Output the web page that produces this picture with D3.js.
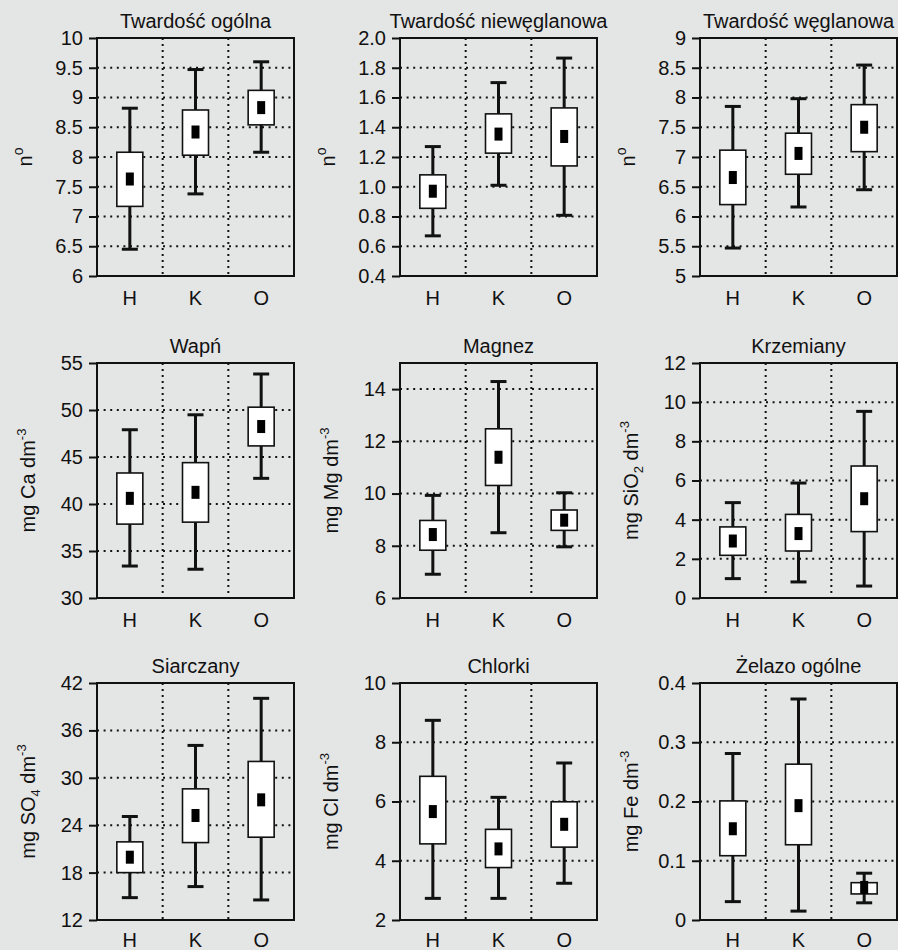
<!DOCTYPE html>
<html>
<head>
<meta charset="utf-8">
<script src="https://cdn.jsdelivr.net/npm/d3@7"></script>
<style>
  body { margin: 0; background: #e4e5e5; }
  svg { display: block; }
  text { font-family: "Liberation Sans", Arial, sans-serif; fill: #111; }
</style>
</head>
<body>
<svg width="898" height="950"></svg>
<script>
//  categories and panel texts
var categories = ["H", "K", "O"];
var titles = ["Twardość ogólna", "Twardość niewęglanowa", "Twardość węglanowa",
              "Wapń", "Magnez", "Krzemiany",
              "Siarczany", "Chlorki", "Żelazo ogólne"];
// [main text, sub, middle text, sup]
var yLabels = [["n", "", "", "o"], ["n", "", "", "o"], ["n", "", "", "o"],
               ["mg Ca dm", "", "", "-3"], ["mg Mg dm", "", "", "-3"], ["mg SiO", "2", " dm", "-3"],
               ["mg SO", "4", " dm", "-3"], ["mg Cl dm", "", "", "-3"], ["mg Fe dm", "", "", "-3"]];

//  y domains and tick values
var domains = [[6, 10], [0.4, 2.0], [5, 9], [30, 55], [6, 15], [0, 12], [12, 42], [2, 10], [0, 0.4]];
var tickValues = [
  [6, 6.5, 7, 7.5, 8, 8.5, 9, 9.5, 10],
  [0.4, 0.6, 0.8, 1.0, 1.2, 1.4, 1.6, 1.8, 2.0],
  [5, 5.5, 6, 6.5, 7, 7.5, 8, 8.5, 9],
  [30, 35, 40, 45, 50, 55],
  [6, 8, 10, 12, 14],
  [0, 2, 4, 6, 8, 10, 12],
  [12, 18, 24, 30, 36, 42],
  [2, 4, 6, 8, 10],
  [0, 0.1, 0.2, 0.3, 0.4]
];
var tickFormats = ["", ".1f", "", "", "", "", "", "", ""];

//  values per category: [whisker low, box low, mean, box high, whisker high]
var twardoscOgolna      = [[6.45, 7.17, 7.63, 8.08, 8.82], [7.38, 8.03, 8.42, 8.79, 9.47], [8.08, 8.54, 8.83, 9.12, 9.60]];
var twardoscNiewegl     = [[0.67, 0.855, 0.97, 1.08, 1.27], [1.01, 1.226, 1.354, 1.49, 1.70], [0.808, 1.14, 1.338, 1.53, 1.865]];
var twardoscWegl        = [[5.47, 6.20, 6.655, 7.115, 7.85], [6.16, 6.71, 7.06, 7.40, 7.98], [6.45, 7.09, 7.50, 7.88, 8.545]];
var wapn                = [[33.4, 37.86, 40.6, 43.3, 47.9], [33.06, 38.07, 41.24, 44.4, 49.49], [42.73, 46.18, 48.24, 50.3, 53.83]];
var magnez              = [[6.91, 7.83, 8.43, 8.97, 9.93], [8.50, 10.31, 11.39, 12.48, 14.29], [7.96, 8.59, 8.98, 9.37, 10.03]];
var krzemiany           = [[0.99, 2.18, 2.91, 3.63, 4.87], [0.82, 2.40, 3.29, 4.27, 5.87], [0.61, 3.39, 5.07, 6.74, 9.53]];
var siarczany           = [[14.83, 18.0, 19.95, 21.89, 25.1], [16.23, 21.8, 25.23, 28.6, 34.1], [14.54, 22.48, 27.21, 32.07, 40.06]];
var chlorki             = [[2.73, 4.57, 5.66, 6.85, 8.74], [2.73, 3.77, 4.40, 5.06, 6.14], [3.24, 4.46, 5.23, 5.99, 7.30]];
var zelazo              = [[0.031, 0.1085, 0.154, 0.201, 0.281], [0.015, 0.127, 0.193, 0.263, 0.373], [0.029, 0.044, 0.055, 0.063, 0.079]];
var panelValues = [twardoscOgolna, twardoscNiewegl, twardoscWegl, wapn, magnez, krzemiany, siarczany, chlorki, zelazo];

//  layout
var svg = d3.select("svg");
var colLeft = [97, 400, 700];
var rowTop = [38, 363, 683];
var rowBottom = [276, 598, 920];
var xLabelPad = [15, 15, 13];
var panelWidth = 197;
var fontSize = 20;

panelValues.forEach(function(vals, i) {
  var col = i % 3, row = Math.floor(i / 3);
  var x0 = colLeft[col], y0 = rowTop[row], h = rowBottom[row] - rowTop[row];
  var g = svg.append("g").attr("transform", "translate(" + x0 + "," + y0 + ")");

  var x = d3.scaleBand().domain(categories).range([0, panelWidth]);
  var y = d3.scaleLinear().domain(domains[i]).range([h, 0]);

  // dotted grid
  var interior = tickValues[i].filter(function(t) { return t > domains[i][0] + 1e-9 && t < domains[i][1] - 1e-9; });
  g.append("g").selectAll("line").data(interior).enter().append("line")
    .attr("x1", 0).attr("x2", panelWidth)
    .attr("y1", function(d) { return y(d); }).attr("y2", function(d) { return y(d); })
    .attr("stroke", "#111").attr("stroke-width", 2).attr("stroke-dasharray", "2,4.6");
  g.append("g").selectAll("line").data(categories.slice(1)).enter().append("line")
    .attr("x1", function(d) { return x(d); }).attr("x2", function(d) { return x(d); })
    .attr("y1", 0).attr("y2", h)
    .attr("stroke", "#111").attr("stroke-width", 2).attr("stroke-dasharray", "2,4");

  // y axis
  var fmt = tickFormats[i] ? d3.format(tickFormats[i]) : function(d) { return String(d); };
  var yAxis = g.append("g")
    .call(d3.axisLeft(y).tickValues(tickValues[i]).tickSize(8).tickSizeOuter(0).tickPadding(6).tickFormat(fmt));
  yAxis.select(".domain").remove();
  yAxis.selectAll("line").attr("stroke", "#111").attr("stroke-width", 2);
  yAxis.selectAll("text").attr("font-size", fontSize).attr("font-family", "Liberation Sans, Arial, sans-serif").attr("fill", "#111");

  // x axis
  var xAxis = g.append("g").attr("transform", "translate(0," + h + ")")
    .call(d3.axisBottom(x).tickSize(0).tickPadding(xLabelPad[row]));
  xAxis.select(".domain").remove();
  xAxis.selectAll("text").attr("font-size", fontSize).attr("font-family", "Liberation Sans, Arial, sans-serif").attr("fill", "#111");

  // frame
  g.append("rect").attr("x", 0).attr("y", 0).attr("width", panelWidth).attr("height", h)
    .attr("fill", "none").attr("stroke", "#111").attr("stroke-width", 2);

  // boxes
  var capW = 16, boxW = 26, markW = 8, markH = 13;
  var box = g.append("g").selectAll("g").data(vals).enter().append("g")
    .attr("transform", function(d, j) { return "translate(" + (x(categories[j]) + x.bandwidth() / 2) + ",0)"; });
  box.append("line").attr("x1", 0).attr("x2", 0)
    .attr("y1", function(d) { return y(d[4]); }).attr("y2", function(d) { return y(d[0]); })
    .attr("stroke", "#111").attr("stroke-width", 3);
  box.append("line").attr("x1", -capW / 2).attr("x2", capW / 2)
    .attr("y1", function(d) { return y(d[4]); }).attr("y2", function(d) { return y(d[4]); })
    .attr("stroke", "#111").attr("stroke-width", 3);
  box.append("line").attr("x1", -capW / 2).attr("x2", capW / 2)
    .attr("y1", function(d) { return y(d[0]); }).attr("y2", function(d) { return y(d[0]); })
    .attr("stroke", "#111").attr("stroke-width", 3);
  box.append("rect").attr("x", -boxW / 2).attr("width", boxW)
    .attr("y", function(d) { return y(d[3]); })
    .attr("height", function(d) { return y(d[1]) - y(d[3]); })
    .attr("fill", "#fff").attr("stroke", "#111").attr("stroke-width", 1.6);
  box.append("rect").attr("x", -markW / 2).attr("width", markW)
    .attr("y", function(d) { return y(d[2]) - markH / 2; }).attr("height", markH)
    .attr("fill", "#000");

  // title
  g.append("text").attr("x", panelWidth / 2).attr("y", -10)
    .attr("text-anchor", "middle").attr("font-size", fontSize).text(titles[i]);

  // y label
  var lab = yLabels[i];
  var lx = row === 0 ? -65 : -62;
  var t = g.append("text").attr("transform", "translate(" + lx + "," + (h / 2) + ") rotate(-90)")
    .attr("text-anchor", "middle").attr("font-size", fontSize);
  t.append("tspan").text(lab[0]);
  if (lab[1]) {
    t.append("tspan").attr("font-size", 13).attr("dy", 5).text(lab[1]);
    t.append("tspan").attr("dy", -5).text(lab[2]);
  }
  t.append("tspan").attr("font-size", row === 0 ? 14 : 13).attr("dy", -9).text(lab[3]);
});
</script>
</body>
</html>
